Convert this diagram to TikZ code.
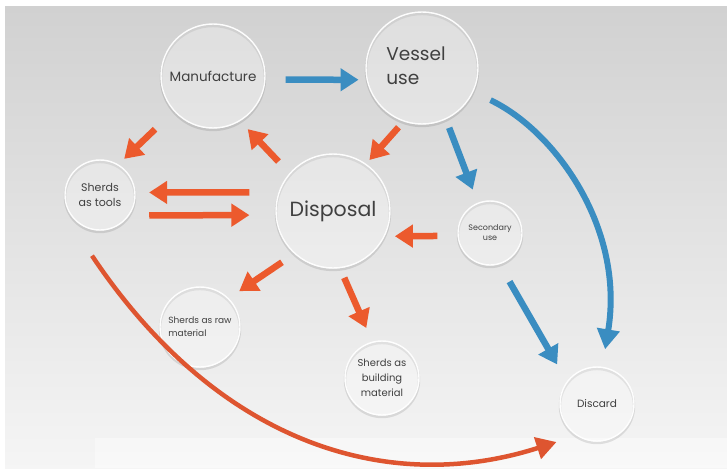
\documentclass[tikz,border=0pt]{standalone}
\usepackage{fontspec}
\setmainfont{Poppins}
\usetikzlibrary{arrows.meta,calc}

\definecolor{flowblue}{HTML}{3A8DC1}
\definecolor{floworange}{HTML}{EC5A2D}
\definecolor{curveorange}{HTML}{DE5530}
\definecolor{txt}{HTML}{404040}

\tikzset{
  bubble/.style={circle, inner sep=0pt, align=center, text=txt,
    fill=white, fill opacity=0.3, text opacity=1,
    draw=white, draw opacity=0.95, line width=1.4pt,
    preaction={draw=black, draw opacity=0.10, fill=none, line width=2.4pt,
               transform canvas={yshift=-2pt}}},
  blk/.style={-{Triangle[length=18pt,width=22pt]}, line width=6.5pt},
  bluearrow/.style={blk, draw=flowblue},
  orangearrow/.style={blk, draw=floworange},
}

\begin{document}
\begin{tikzpicture}[x=1pt, y=-1pt]
  \useasboundingbox (0,0) rectangle (727,468);

  % backdrop: grey at the top fading to white at the bottom
  \fill[white] (0,0) rectangle (727,468);
  \shade[top color=black!18, bottom color=black!4] (5,7) rectangle (727,468);
  \fill[white, opacity=0.4] (95,438) rectangle (727,468);

  % stages of a vessel's life
  \node[bubble, minimum size=104pt, font=\fontsize{13.5}{16}\selectfont] (M) at (213,76) {Manufacture};
  \node[bubble, minimum size=112pt, font=\fontsize{18.5}{24}\selectfont] (V) at (422,68)
    {\hspace*{-12pt}\begin{tabular}{@{}l@{}}Vessel\\use\end{tabular}};
  \node[bubble, minimum size=70pt, font=\fontsize{11}{15}\selectfont] (T) at (100,195) {Sherds\\as tools};
  \node[bubble, minimum size=114pt, font=\fontsize{20.5}{24}\selectfont] (D) at (333,211) {Disposal};
  \node[bubble, minimum size=64pt, font=\fontsize{8}{10}\selectfont] (S) at (490,233) {Secondary\\use};
  \node[bubble, minimum size=80pt, font=\fontsize{9}{13}\selectfont] (R) at (200,327)
    {\begin{tabular}{@{}l@{}}Sherds as raw\\material\end{tabular}};
  \node[bubble, minimum size=74pt, font=\fontsize{10}{15}\selectfont] (B) at (382,378) {Sherds as\\building\\material};
  \node[bubble, minimum size=74pt, font=\fontsize{10.5}{13}\selectfont] (X) at (597,404) {Discard};

  % blue flows
  \draw[bluearrow, shorten <=20pt, shorten >=8pt] (M.-4) -- (V.192);
  \draw[bluearrow, shorten <=9pt, shorten >=14pt] (V.-65) -- (S.112);
  \draw[bluearrow, line width=6pt, -{Triangle[length=20pt,width=22pt]}, shorten <=19pt, shorten >=17.6pt]
    (V.-25) .. controls (555,131) and (625,228) .. (X.82);
  \draw[bluearrow, shorten <=20pt, shorten >=19.5pt] (S.-73) -- (X.143);

  % orange flows
  \draw[orangearrow, shorten <=26pt, shorten >=8pt] (M.-138) -- (T.59);
  \draw[orangearrow, shorten <=16pt, shorten >=11pt] (D.139) -- (M.-59);
  \draw[orangearrow, shorten <=7.6pt, shorten >=5pt] (V.-109) -- (D.55);
  \draw[orangearrow, shorten <=29pt, shorten >=13.5pt] (D.161) -- (T.4);
  \draw[orangearrow, shorten <=20pt, shorten >=26pt] (T.-35) -- (D.184);
  \draw[orangearrow, shorten <=20pt, shorten >=10pt] (S.185) -- (D.-26);
  \draw[orangearrow, shorten <=15pt, shorten >=12.6pt] (D.-132) -- (R.45);
  \draw[orangearrow, shorten <=10.4pt, shorten >=14.8pt] (D.-83) -- (B.105);
  \draw[draw=curveorange, line width=4.5pt, -{Triangle[length=20pt,width=22pt]}, shorten >=21pt]
    ($(T.south)+(-8,25)$) .. controls (218,444) and (388,496) .. (X.-123);
\end{tikzpicture}
\end{document}
